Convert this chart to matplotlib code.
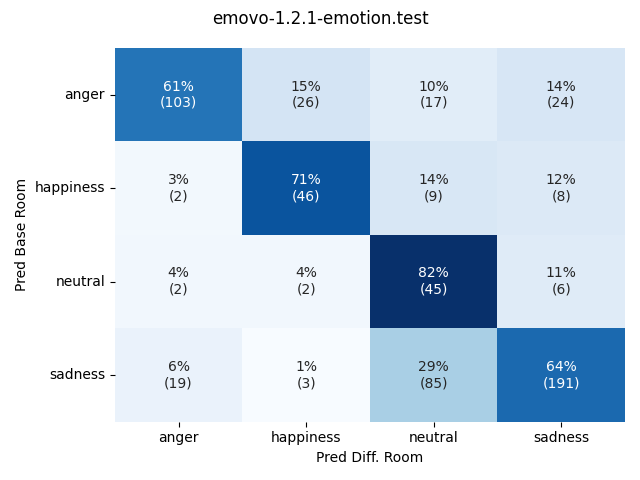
import numpy as np
import matplotlib
matplotlib.use("Agg")
import matplotlib.pyplot as plt
import seaborn as sns

labels = ["anger", "happiness", "neutral", "sadness"]
counts = np.array([
    [103, 26, 17, 24],
    [2, 46, 9, 8],
    [2, 2, 45, 6],
    [19, 3, 85, 191],
])

pct = counts / counts.sum(axis=1, keepdims=True)
annot = np.array([["{:.0f}%\n({})".format(p * 100, c) for p, c in zip(pr, cr)]
                  for pr, cr in zip(pct, counts)])

fig, ax = plt.subplots(figsize=(6.4, 4.8), dpi=100)
sns.heatmap(pct, annot=annot, fmt="", cmap="Blues", cbar=False,
            xticklabels=labels, yticklabels=labels, ax=ax)
ax.set_xlabel("Pred Diff. Room")
ax.set_ylabel("Pred Base Room")
fig.suptitle("emovo-1.2.1-emotion.test")
plt.yticks(rotation=0)
plt.tight_layout()
plt.savefig("out.png")
